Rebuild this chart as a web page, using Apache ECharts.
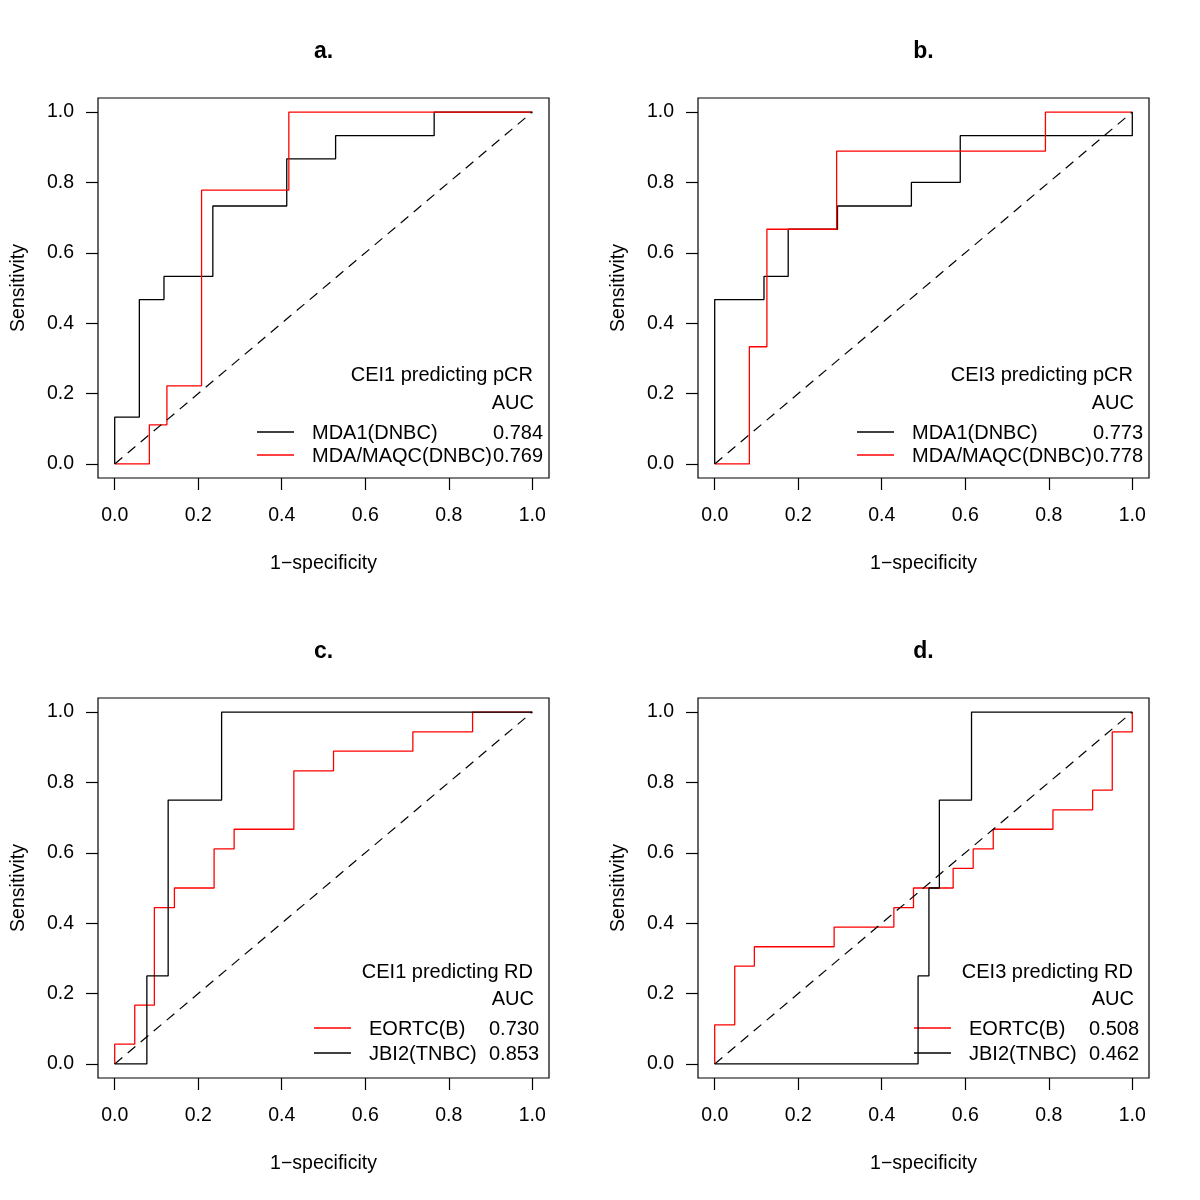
<!DOCTYPE html>
<html>
<head>
<meta charset="utf-8">
<script src="https://cdn.jsdelivr.net/npm/echarts@6/dist/echarts.min.js"></script>
<style>html,body{margin:0;padding:0;background:#fff}#c{width:1200px;height:1200px}</style>
</head>
<body>
<div id="c"></div>
<script>
// ---- data ----
const tickValues = [0, 0.2, 0.4, 0.6, 0.8, 1.0];
const panelTitles = ['a.', 'b.', 'c.', 'd.'];
const legendTitles = ['CEI1 predicting pCR', 'CEI3 predicting pCR', 'CEI1 predicting RD', 'CEI3 predicting RD'];

// panel a
const aBlackName = 'MDA1(DNBC)', aBlackAUC = '0.784';
const aBlackX = [0, 0, 0.059, 0.059, 0.118, 0.118, 0.235, 0.235, 0.412, 0.412, 0.529, 0.529, 0.765, 0.765, 1.0];
const aBlackY = [0, 0.133, 0.133, 0.467, 0.467, 0.533, 0.533, 0.733, 0.733, 0.867, 0.867, 0.933, 0.933, 1.0, 1.0];
const aRedName = 'MDA/MAQC(DNBC)', aRedAUC = '0.769';
const aRedX = [0, 0.083, 0.083, 0.125, 0.125, 0.208, 0.208, 0.417, 0.417, 1.0];
const aRedY = [0, 0, 0.111, 0.111, 0.222, 0.222, 0.778, 0.778, 1.0, 1.0];

// panel b
const bBlackName = 'MDA1(DNBC)', bBlackAUC = '0.773';
const bBlackX = [0, 0, 0.118, 0.118, 0.176, 0.176, 0.294, 0.294, 0.471, 0.471, 0.588, 0.588, 1.0, 1.0];
const bBlackY = [0, 0.467, 0.467, 0.533, 0.533, 0.667, 0.667, 0.733, 0.733, 0.8, 0.8, 0.933, 0.933, 1.0];
const bRedName = 'MDA/MAQC(DNBC)', bRedAUC = '0.778';
const bRedX = [0, 0.083, 0.083, 0.125, 0.125, 0.292, 0.292, 0.792, 0.792, 1.0];
const bRedY = [0, 0, 0.333, 0.333, 0.667, 0.667, 0.889, 0.889, 1.0, 1.0];

// panel c
const cRedName = 'EORTC(B)', cRedAUC = '0.730';
const cRedX = [0, 0, 0.048, 0.048, 0.095, 0.095, 0.143, 0.143, 0.238, 0.238, 0.286, 0.286, 0.429, 0.429, 0.524, 0.524, 0.714, 0.714, 0.857, 0.857, 1.0];
const cRedY = [0, 0.056, 0.056, 0.167, 0.167, 0.444, 0.444, 0.5, 0.5, 0.611, 0.611, 0.667, 0.667, 0.833, 0.833, 0.889, 0.889, 0.944, 0.944, 1.0, 1.0];
const cBlackName = 'JBI2(TNBC)', cBlackAUC = '0.853';
const cBlackX = [0, 0.077, 0.077, 0.128, 0.128, 0.256, 0.256, 1.0];
const cBlackY = [0, 0, 0.25, 0.25, 0.75, 0.75, 1.0, 1.0];

// panel d
const dRedName = 'EORTC(B)', dRedAUC = '0.508';
const dRedX = [0, 0, 0.048, 0.048, 0.095, 0.095, 0.286, 0.286, 0.429, 0.429, 0.476, 0.476, 0.571, 0.571, 0.619, 0.619, 0.667, 0.667, 0.810, 0.810, 0.905, 0.905, 0.952, 0.952, 1.0, 1.0];
const dRedY = [0, 0.111, 0.111, 0.278, 0.278, 0.333, 0.333, 0.389, 0.389, 0.444, 0.444, 0.5, 0.5, 0.556, 0.556, 0.611, 0.611, 0.667, 0.667, 0.722, 0.722, 0.778, 0.778, 0.944, 0.944, 1.0];
const dBlackName = 'JBI2(TNBC)', dBlackAUC = '0.462';
const dBlackX = [0, 0.487, 0.487, 0.513, 0.513, 0.538, 0.538, 0.615, 0.615, 1.0];
const dBlackY = [0, 0, 0.25, 0.25, 0.5, 0.5, 0.75, 0.75, 1.0, 1.0];

const diagX = [0, 1];
const diagY = [0, 1];

// ---- build ----
const FONT = 'Liberation Sans, Arial, Helvetica, sans-serif';
const RED = '#ff0000', BLACK = '#000000';
const zip = (xs, ys) => xs.map((x, i) => [x, ys[i]]);

const panels = [
  { curves: [[aBlackName, aBlackAUC, aBlackX, aBlackY, BLACK], [aRedName, aRedAUC, aRedX, aRedY, RED]], lay: 'top' },
  { curves: [[bBlackName, bBlackAUC, bBlackX, bBlackY, BLACK], [bRedName, bRedAUC, bRedX, bRedY, RED]], lay: 'top' },
  { curves: [[cRedName, cRedAUC, cRedX, cRedY, RED], [cBlackName, cBlackAUC, cBlackX, cBlackY, BLACK]], lay: 'bottom' },
  { curves: [[dRedName, dRedAUC, dRedX, dRedY, RED], [dBlackName, dBlackAUC, dBlackX, dBlackY, BLACK]], lay: 'bottom' }
];

const GL = [98, 698, 98, 698], GT = [98, 98, 698, 698], GW = 451, GH = 380;
const grid = [], xAxis = [], yAxis = [], series = [], graphic = [];
const AXFS = 19.5, LGFS = 20;

panels.forEach((p, i) => {
  const left = GL[i], top = GT[i];
  grid.push({ left: left, top: top, width: GW, height: GH, show: true, borderColor: '#000', borderWidth: 1.2, backgroundColor: 'transparent' });
  const axisCommon = {
    gridIndex: i, type: 'value', min: -0.04, max: 1.04,
    axisLine: { show: false, onZero: false },
    splitLine: { show: false },
    axisTick: { show: true, inside: false, length: 12, customValues: tickValues, lineStyle: { color: '#000', width: 1.2 } },
    axisLabel: { show: true, customValues: tickValues, formatter: v => v.toFixed(1), color: '#000', fontSize: AXFS, fontFamily: FONT },
    nameLocation: 'middle',
    nameTextStyle: { color: '#000', fontSize: AXFS, fontFamily: FONT }
  };
  xAxis.push(Object.assign({}, axisCommon, { name: '1\u2212specificity', nameGap: 76,
    axisLabel: Object.assign({}, axisCommon.axisLabel, { margin: 28 }) }));
  yAxis.push(Object.assign({}, axisCommon, { name: 'Sensitivity', nameGap: 69,
    axisLabel: Object.assign({}, axisCommon.axisLabel, { margin: 24 }) }));

  p.curves.forEach(c => {
    series.push({
      type: 'line', name: c[0], xAxisIndex: i, yAxisIndex: i,
      data: zip(c[2], c[3]), showSymbol: false, symbol: 'none', silent: true,
      lineStyle: { color: c[4], width: 1.3 }, animation: false
    });
  });
  series.push({
    type: 'line', xAxisIndex: i, yAxisIndex: i, data: zip(diagX, diagY),
    showSymbol: false, symbol: 'none', silent: true,
    lineStyle: { color: '#000', width: 1.2, type: [10, 7] }, animation: false
  });

  // panel title
  graphic.push({ type: 'text', x: left + GW / 2, y: top - 46, style: {
    text: panelTitles[i], fill: '#000', font: 'bold 23px ' + FONT, textAlign: 'center', textVerticalAlign: 'middle' } });

  // legend block
  const bottom = top + GH;
  let L;
  if (p.lay === 'top') {
    L = { title: bottom - 103, auc: bottom - 75, rows: [bottom - 46, bottom - 23], lineX: [left + 159, left + 196], nameX: left + 214, valX: left + 395 };
  } else {
    L = { title: bottom - 106, auc: bottom - 79, rows: [bottom - 50, bottom - 25], lineX: [left + 216, left + 253], nameX: left + 271, valX: left + 391 };
  }
  graphic.push({ type: 'text', x: left + 435, y: L.title, style: { text: legendTitles[i], fill: '#000', font: LGFS + 'px ' + FONT, textAlign: 'right', textVerticalAlign: 'middle' } });
  graphic.push({ type: 'text', x: left + 436, y: L.auc, style: { text: 'AUC', fill: '#000', font: LGFS + 'px ' + FONT, textAlign: 'right', textVerticalAlign: 'middle' } });
  p.curves.forEach((c, k) => {
    const yy = L.rows[k];
    graphic.push({ type: 'line', shape: { x1: L.lineX[0], y1: yy, x2: L.lineX[1], y2: yy }, style: { stroke: c[4], lineWidth: 1.3 } });
    graphic.push({ type: 'text', x: L.nameX, y: yy + 1, style: { text: c[0], fill: '#000', font: LGFS + 'px ' + FONT, textAlign: 'left', textVerticalAlign: 'middle' } });
    graphic.push({ type: 'text', x: L.valX, y: yy + 1, style: { text: c[1], fill: '#000', font: LGFS + 'px ' + FONT, textAlign: 'left', textVerticalAlign: 'middle' } });
  });
});

const chart = echarts.init(document.getElementById('c'), null, { renderer: 'canvas' });
chart.setOption({
  backgroundColor: '#ffffff',
  animation: false,
  grid: grid, xAxis: xAxis, yAxis: yAxis, series: series, graphic: graphic
});
</script>
</body>
</html>
